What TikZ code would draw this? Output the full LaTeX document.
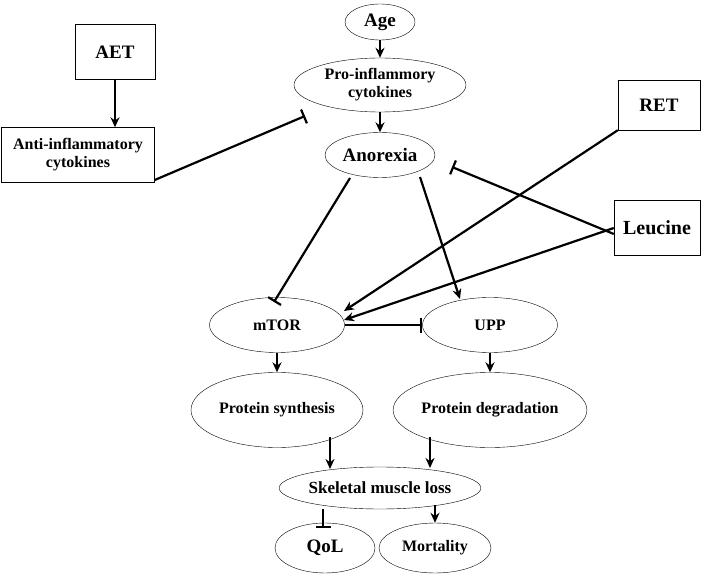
\documentclass[tikz,border=0pt]{standalone}
\usepackage{fontspec}
\setmainfont{Liberation Serif}
\usetikzlibrary{shapes.geometric, arrows.meta}
\begin{document}
\begin{tikzpicture}[x=1pt,y=-1pt]

% Define styles
\tikzstyle{oval}=[draw, ellipse, inner sep=0pt, font=\bfseries\fontsize{16}{18}\selectfont, align=center]
\tikzstyle{box}=[draw, rectangle, inner sep=0pt, font=\bfseries\fontsize{16}{18}\selectfont, align=center]
\tikzstyle{big}=[font=\bfseries\fontsize{19}{21}\selectfont]
\tikzstyle{promote}=[line width=2.2pt, -{Stealth[length=10pt,width=9pt]}]
\tikzstyle{inhibit}=[line width=2.2pt, -{Bar[width=15pt,line width=2.2pt]}]

\useasboundingbox (0,0) rectangle (709,580);

% Ellipses
\node[oval, big, minimum width=70, minimum height=36] (age) at (380,22) {Age};
\node[oval, minimum width=172, minimum height=54] (pro) at (380,85) {Pro-inflammory\\cytokines};
\node[oval, big, minimum width=110, minimum height=45] (anorexia) at (380,155) {Anorexia};
\node[oval, minimum width=135, minimum height=55] (mtor) at (277,325) {mTOR};
\node[oval, minimum width=135, minimum height=55] (upp) at (490,325) {UPP};
\node[oval, minimum width=172, minimum height=75] (synth) at (277,410) {Protein synthesis};
\node[oval, minimum width=172, minimum height=75] (degr) at (490,410) {Protein degradation};
\node[oval, minimum width=194, minimum height=42, font=\bfseries\fontsize{17}{19}\selectfont] (loss) at (380,488) {Skeletal muscle loss};
\node[oval, big, minimum width=100, minimum height=50] (qol) at (325,548) {QoL};
\node[oval, minimum width=112, minimum height=50] (mort) at (435,548) {Mortality};

% Boxes
\node[box, big, minimum width=80, minimum height=55] (aet) at (115,52) {AET};
\node[box, minimum width=153, minimum height=55] (anti) at (78,155) {Anti-inflammatory\\cytokines};
\node[box, big, minimum width=82, minimum height=50] (ret) at (659,105) {RET};
\node[box, minimum width=86, minimum height=55, font=\bfseries\fontsize{20}{22}\selectfont] (leu) at (657,228) {Leucine};

% Vertical chain
\draw[promote] (age) -- (pro);
\draw[promote] (pro) -- (anorexia);
\draw[promote] (aet.south) -- (aet.south |- anti.north);
\draw[promote] (mtor) -- (synth);
\draw[promote] (upp) -- (degr);
\draw[promote] (330,437) -- (330,469);
\draw[promote] (430,437) -- (430,468);
\draw[inhibit] (323,509) -- (323,528);
\draw[promote] (435,505) -- (mort);

% Cross links
\draw[inhibit] (anti.east) ++(0,25) -- (305,116);
\draw[inhibit] (350,178) -- (274,302);
\draw[promote] (420,177) -- (460,299);
\draw[promote] (ret.south west) -- (344,311);
\draw[promote] (leu.west) -- (344,320);
\draw[inhibit] (leu.west) ++(0,6) -- (452,167);
\draw[inhibit] (mtor.east) -- (mtor.east -| upp.west);

\end{tikzpicture}
\end{document}
